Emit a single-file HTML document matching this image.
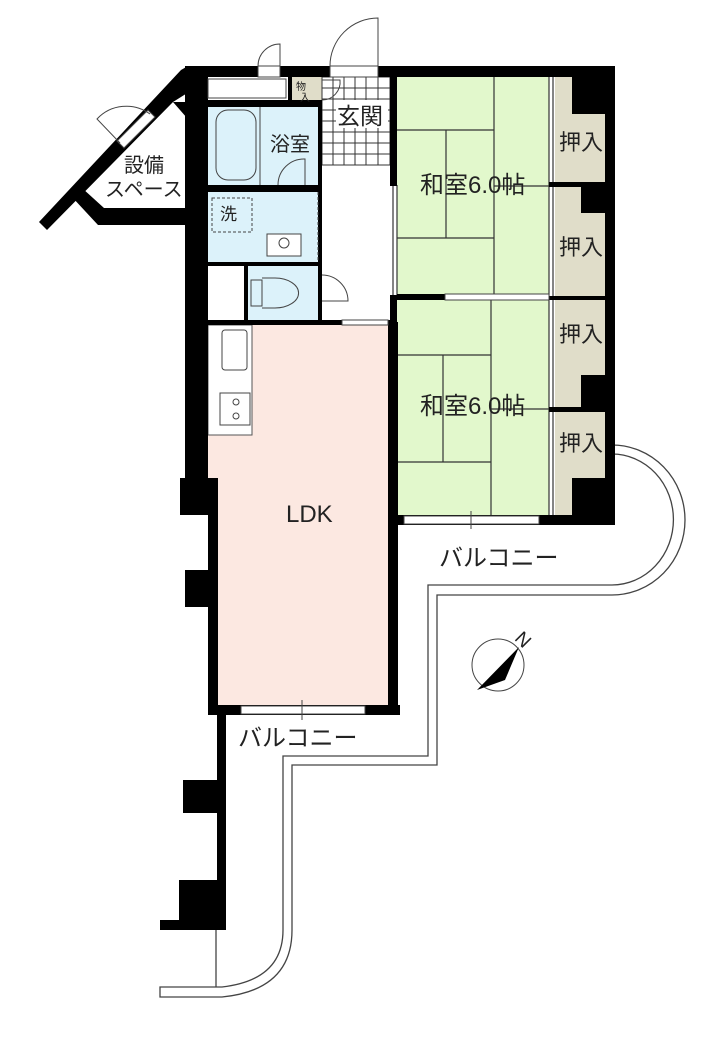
<!DOCTYPE html>
<html><head><meta charset="utf-8"><style>
html,body{margin:0;padding:0;background:#fff;}
svg{display:block;}
text{font-family:"Liberation Sans","Noto Sans CJK JP",sans-serif;fill:#222;}
</style></head><body>
<svg width="717" height="1038" viewBox="0 0 717 1038" xmlns="http://www.w3.org/2000/svg">
<!-- balconies -->
<g fill="none" stroke="#444" stroke-width="1.3">
<path d="M283 930 V756 H428 V585 H612 A61 65 0 0 0 612 454"/>
<path d="M292 930 V765 H437 V595 H612 A73 75 0 0 0 612 445"/>
<path d="M283 930 Q283 980 222 987 H160 V997 H222 Q292 990 292 930"/>
<line x1="216" y1="930" x2="216" y2="987"/>
</g>
<!-- room fills -->
<rect x="397" y="76" width="152" height="219" fill="#e2f8cc"/>
<rect x="397" y="299" width="152" height="216" fill="#e2f8cc"/>
<rect x="555" y="76" width="50" height="439" fill="#e0ddc9"/>
<rect x="208" y="325" width="182" height="385" fill="#fce8e1"/>
<rect x="208" y="325" width="44" height="110" fill="#fff" stroke="#555" stroke-width="1"/>
<rect x="208" y="107" width="110" height="78" fill="#dcf2fa"/>
<rect x="208" y="192" width="110" height="70" fill="#dcf2fa"/>
<rect x="248" y="266" width="70" height="54" fill="#dcf2fa"/>
<rect x="292" y="77" width="30" height="27" fill="#e0ddc9"/>
<!-- tatami lines -->
<g stroke="#333" stroke-width="1.2" fill="none">
<line x1="494" y1="76" x2="494" y2="295"/>
<line x1="397" y1="130" x2="494" y2="130"/>
<line x1="446" y1="130" x2="446" y2="238"/>
<line x1="397" y1="238" x2="494" y2="238"/>
<line x1="494" y1="186" x2="549" y2="186"/>
<line x1="491" y1="299" x2="491" y2="515"/>
<line x1="397" y1="355" x2="491" y2="355"/>
<line x1="443" y1="355" x2="443" y2="462"/>
<line x1="397" y1="462" x2="491" y2="462"/>
<line x1="491" y1="409" x2="549" y2="409"/>
<line x1="549" y1="76" x2="549" y2="515"/><line x1="553" y1="76" x2="553" y2="515"/>
<line x1="393" y1="185" x2="393" y2="295"/><line x1="397" y1="185" x2="397" y2="295"/>
<line x1="393" y1="355" x2="393" y2="455"/><line x1="397" y1="355" x2="397" y2="455"/>
</g>
<!-- genkan tiles -->
<g stroke="#333" stroke-width="1">
<rect x="322" y="77" width="68" height="88" fill="#fff"/>
<line x1="333" y1="77" x2="333" y2="165"/><line x1="344" y1="77" x2="344" y2="165"/><line x1="355" y1="77" x2="355" y2="165"/><line x1="366" y1="77" x2="366" y2="165"/><line x1="378" y1="77" x2="378" y2="165"/>
<line x1="322" y1="88" x2="390" y2="88"/><line x1="322" y1="99" x2="390" y2="99"/><line x1="322" y1="110" x2="390" y2="110"/><line x1="322" y1="121" x2="390" y2="121"/><line x1="322" y1="132" x2="390" y2="132"/><line x1="322" y1="143" x2="390" y2="143"/><line x1="322" y1="154" x2="390" y2="154"/>
</g>
<rect x="336" y="100" width="52" height="28" fill="#fff"/>
<!-- walls -->
<g fill="#000">
<rect x="188" y="66" width="427" height="11"/>
<rect x="605" y="66" width="10" height="459"/>
<rect x="393" y="515" width="222" height="10"/>
<rect x="572" y="76" width="33" height="38"/>
<rect x="581" y="187" width="24" height="26"/>
<rect x="581" y="375" width="24" height="32"/>
<rect x="572" y="478" width="33" height="37"/>
<rect x="549" y="182" width="56" height="5"/>
<rect x="549" y="296" width="56" height="4"/>
<rect x="549" y="407" width="56" height="5"/>
<rect x="390" y="76" width="7" height="110"/>
<rect x="390" y="295" width="7" height="60"/>
<rect x="390" y="455" width="7" height="70"/>
<rect x="397" y="294" width="48" height="6"/>
<rect x="185" y="66" width="23" height="412"/>
<rect x="180" y="478" width="38" height="37"/>
<rect x="208" y="515" width="10" height="200"/>
<rect x="185" y="570" width="33" height="37"/>
<rect x="208" y="705" width="192" height="10"/>
<rect x="388" y="322" width="10" height="393"/>
<rect x="217" y="715" width="9" height="215"/>
<rect x="183" y="780" width="43" height="33"/>
<rect x="179" y="880" width="47" height="45"/>
<rect x="160" y="920" width="66" height="10"/>
<rect x="208" y="100" width="114" height="7"/>
<rect x="208" y="185" width="114" height="7"/>
<rect x="208" y="262" width="114" height="4"/>
<rect x="318" y="100" width="4" height="225"/>
<rect x="244" y="262" width="4" height="60"/>
<rect x="208" y="320" width="182" height="5"/>
<rect x="288" y="77" width="4" height="27"/>
<polygon points="188,66 208,66 208,80 173,102 47,230 39,222 181,70"/>
<polygon points="173,102 187,102 187,118"/>
<polygon points="72,197 82,188 104,208 186,208 186,225 98,225"/>
</g>
<!-- windows -->
<g fill="#fff" stroke="#444" stroke-width="1">
<rect x="241" y="706" width="124" height="8"/>
<rect x="404" y="516" width="135" height="8"/>
<rect x="445" y="294" width="104" height="6"/>
<rect x="342" y="320" width="46" height="5"/>
<rect x="208" y="79" width="78" height="19"/>
<rect x="258" y="66" width="22" height="11"/>
<rect x="330" y="66" width="48" height="11"/>
</g>
<polygon points="117,141 124,148 155,117 148,110" fill="#fff" stroke="#444" stroke-width="1"/>
<g stroke="#444" stroke-width="1" fill="none">
<line x1="302" y1="700" x2="302" y2="720"/><line x1="471" y1="511" x2="471" y2="529"/>
<path d="M258 66 A22 22 0 0 1 280 44 V66"/>
<path d="M330 66 A48 48 0 0 1 378 18 V66"/>
<path d="M120 143 L97 119 A40 40 0 0 1 150 114"/>
<path d="M322 80 H340 A18 18 0 0 1 322 100"/>
<path d="M278 185 A26 26 0 0 1 305 159 V185"/>
<path d="M322 275 A26 26 0 0 1 348 301 H322"/>
<rect x="216" y="110" width="40" height="70" rx="12"/>
<line x1="260" y1="107" x2="260" y2="185"/>
<rect x="212" y="198" width="40" height="34" stroke-dasharray="3,2"/>
<line x1="318" y1="192" x2="318" y2="262" stroke-dasharray="3,2"/>
<rect x="267" y="234" width="34" height="22" fill="#fff"/><circle cx="284" cy="243" r="5"/>
<path d="M262 278 H275 A22 14 0 1 1 275 308 H262"/>
<rect x="251" y="280" width="11" height="26"/>
<rect x="222" y="330" width="25" height="40" rx="3"/>
<rect x="220" y="393" width="30" height="32"/>
<circle cx="236" cy="402" r="3"/><circle cx="236" cy="416" r="3"/>
<circle cx="498" cy="665" r="26"/>
</g>
<polygon points="477,690 519,647 505,680" fill="#000"/>
<text x="516" y="646" font-size="19" transform="rotate(45 523 640)">N</text>
<!-- labels -->
<text x="337" y="124" font-size="23">玄関</text>
<text x="270" y="151" font-size="20">浴室</text>
<text x="220" y="220" font-size="17">洗</text>
<text x="296" y="90" font-size="10">物</text><text x="300" y="101" font-size="10">入</text>
<text x="124" y="172" font-size="20">設備</text>
<text x="105" y="196" font-size="20">スペース</text>
<text x="420" y="193" font-size="24">和室6.0帖</text>
<text x="420" y="414" font-size="24">和室6.0帖</text>
<text x="559" y="150" font-size="22">押入</text>
<text x="559" y="255" font-size="22">押入</text>
<text x="559" y="342" font-size="22">押入</text>
<text x="559" y="451" font-size="22">押入</text>
<text x="286" y="522" font-size="24">LDK</text>
<text x="439" y="566" font-size="24">バルコニー</text>
<text x="238" y="746" font-size="24">バルコニー</text>
</svg>
</body></html>
